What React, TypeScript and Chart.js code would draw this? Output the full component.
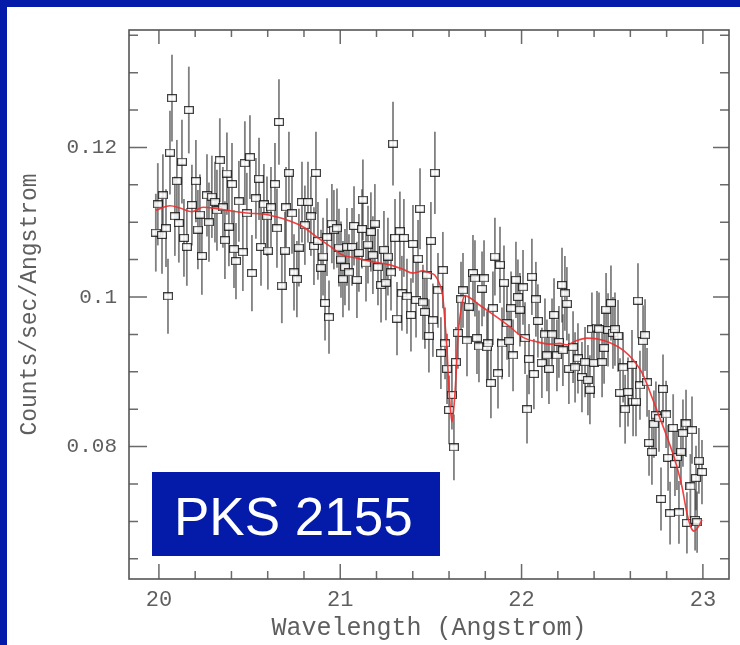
import React, { useEffect, useRef } from "react";
import { Chart, registerables } from "chart.js";

Chart.register(...registerables);

// Binned spectrum: wavelength (Angstrom), count rate and 1-sigma error
const wavelength = [
  19.983, 19.994, 20.017, 20.022, 20.039, 20.050, 20.061, 20.072, 20.088, 20.099,
  20.110, 20.127, 20.138, 20.154, 20.165, 20.182, 20.204, 20.215, 20.226, 20.237,
  20.265, 20.276, 20.292, 20.309, 20.320, 20.336, 20.353, 20.364, 20.375, 20.386,
  20.403, 20.414, 20.425, 20.441, 20.463, 20.474, 20.485, 20.502, 20.513, 20.535,
  20.552, 20.563, 20.579, 20.596, 20.601, 20.618, 20.640, 20.651, 20.662, 20.678,
  20.695, 20.701, 20.717, 20.734, 20.745,
  20.761, 20.772, 20.789, 20.805, 20.822, 20.838, 20.855, 20.866, 20.877, 20.894,
  20.905, 20.916, 20.927, 20.938, 20.954, 20.965, 20.982, 20.993, 21.004, 21.015,
  21.026, 21.037, 21.048, 21.065, 21.076, 21.092, 21.103, 21.120, 21.125, 21.142,
  21.153, 21.169, 21.180, 21.191, 21.208, 21.225, 21.241, 21.252, 21.263, 21.280,
  21.291, 21.302, 21.313, 21.329, 21.340, 21.351, 21.368, 21.390, 21.401, 21.418,
  21.429, 21.440, 21.456, 21.467, 21.478, 21.489, 21.500, 21.511, 21.522,
  21.539, 21.555, 21.566, 21.578, 21.589, 21.600, 21.616, 21.627, 21.638, 21.649,
  21.666, 21.677, 21.699, 21.710, 21.732, 21.743, 21.754, 21.765, 21.782, 21.793,
  21.809, 21.815, 21.831, 21.842, 21.853, 21.870, 21.881, 21.892, 21.903, 21.920,
  21.931, 21.942, 21.953, 21.969, 21.980, 21.991, 22.008, 22.019, 22.030, 22.041,
  22.057, 22.068, 22.079, 22.090, 22.112, 22.129, 22.140, 22.151, 22.168, 22.179,
  22.195, 22.206, 22.223, 22.228, 22.239, 22.250, 22.261,
  22.284, 22.295, 22.311, 22.333, 22.350, 22.366, 22.377, 22.388, 22.399, 22.416,
  22.427, 22.444, 22.455, 22.466, 22.477, 22.493, 22.504, 22.515, 22.532, 22.543,
  22.560, 22.571, 22.587, 22.609, 22.615, 22.631, 22.642, 22.653, 22.670, 22.681,
  22.692, 22.703, 22.719, 22.730, 22.741, 22.758, 22.769, 22.780, 22.797, 22.808,
  22.819, 22.836, 22.846, 22.857, 22.868, 22.879, 22.890, 22.907, 22.912, 22.931,
  22.940, 22.957, 22.962, 22.968, 22.978, 22.995,
];

const counts = [
  0.1086, 0.1124, 0.1083, 0.1136, 0.1092, 0.1001, 0.1193, 0.1266, 0.1108, 0.1155,
  0.1099, 0.1181, 0.1079, 0.1067, 0.1250, 0.1123, 0.1155, 0.1090, 0.1110, 0.1055,
  0.1136, 0.1100, 0.1134, 0.1127, 0.1116, 0.1183, 0.1120, 0.1076, 0.1165, 0.1094,
  0.1151, 0.1064, 0.1048, 0.1128, 0.1060, 0.1179, 0.1112, 0.1187, 0.1032, 0.1132,
  0.1158, 0.1067, 0.1124, 0.1108, 0.1062, 0.1120, 0.1151, 0.1092, 0.1234, 0.1015,
  0.1062, 0.1120, 0.1166, 0.1112, 0.1033,
  0.1024, 0.1066, 0.1127, 0.1096, 0.1127, 0.1108, 0.1068, 0.1166, 0.1075, 0.1039,
  0.1054, 0.0992, 0.1080, 0.0973, 0.1098, 0.1090, 0.1092, 0.1066, 0.1050, 0.1024,
  0.1040, 0.1067, 0.1033, 0.1067, 0.1095, 0.1023, 0.1059, 0.1091, 0.1130, 0.1045,
  0.1070, 0.1087, 0.1056, 0.1098, 0.1040, 0.1016, 0.1063, 0.1019, 0.1054, 0.1033,
  0.1205, 0.1079, 0.0971, 0.1088, 0.1005, 0.1079, 0.1001, 0.0976, 0.1071, 0.0996,
  0.1051, 0.1118, 0.0993, 0.0980, 0.1029, 0.0948, 0.1075, 0.0969, 0.1166,
  0.1009, 0.0925, 0.1036, 0.0938, 0.0904, 0.0849, 0.0869, 0.0799, 0.0913, 0.0952,
  0.0997, 0.1009, 0.0942, 0.0987, 0.1032, 0.1025, 0.0945, 0.0934, 0.1011, 0.1025,
  0.0933, 0.0938, 0.0885, 0.0985, 0.1054, 0.0898, 0.1043, 0.0938, 0.1019, 0.0965,
  0.0941, 0.0985, 0.0922, 0.1023, 0.1000, 0.0983, 0.1013, 0.0945, 0.0850, 0.0917,
  0.1027, 0.0897, 0.0997, 0.0968, 0.0912, 0.0950, 0.0922, 0.0904, 0.0950, 0.0976,
  0.0922, 0.0940, 0.1016, 0.0929, 0.1005, 0.0991, 0.0904,
  0.0933, 0.0906, 0.0918, 0.0893, 0.0913, 0.0889, 0.0876, 0.0957, 0.0912, 0.0959,
  0.0957, 0.0913, 0.0932, 0.0983, 0.0956, 0.0992, 0.0952, 0.0957, 0.0948, 0.0872,
  0.0906, 0.0850, 0.0873, 0.0909, 0.0860, 0.0860, 0.0995, 0.0882, 0.0941, 0.0949,
  0.0886, 0.0805, 0.0793, 0.0830, 0.0842, 0.0838, 0.0730, 0.0877, 0.0843, 0.0785,
  0.0711, 0.0825, 0.0777, 0.0786, 0.0712, 0.0793, 0.0818, 0.0831, 0.0698, 0.0747,
  0.0822, 0.0702, 0.0758, 0.0699, 0.0781, 0.0766,
];

const countErr = [
  0.0052, 0.0055, 0.0052, 0.0055, 0.0052, 0.0050, 0.0056, 0.0058, 0.0053, 0.0055,
  0.0053, 0.0056, 0.0052, 0.0052, 0.0058, 0.0054, 0.0055, 0.0053, 0.0054, 0.0052,
  0.0055, 0.0053, 0.0055, 0.0054, 0.0054, 0.0056, 0.0054, 0.0052, 0.0055, 0.0053,
  0.0055, 0.0052, 0.0051, 0.0054, 0.0052, 0.0056, 0.0054, 0.0056, 0.0051, 0.0054,
  0.0055, 0.0052, 0.0054, 0.0053, 0.0052, 0.0054, 0.0055, 0.0053, 0.0057, 0.0050,
  0.0052, 0.0054, 0.0055, 0.0054, 0.0051,
  0.0051, 0.0052, 0.0054, 0.0053, 0.0054, 0.0053, 0.0052, 0.0055, 0.0052, 0.0051,
  0.0052, 0.0050, 0.0052, 0.0049, 0.0053, 0.0053, 0.0053, 0.0052, 0.0051, 0.0051,
  0.0051, 0.0052, 0.0051, 0.0052, 0.0053, 0.0051, 0.0052, 0.0053, 0.0054, 0.0051,
  0.0052, 0.0053, 0.0052, 0.0053, 0.0051, 0.0050, 0.0052, 0.0050, 0.0052, 0.0051,
  0.0056, 0.0052, 0.0049, 0.0053, 0.0050, 0.0052, 0.0050, 0.0049, 0.0052, 0.0050,
  0.0052, 0.0054, 0.0050, 0.0049, 0.0051, 0.0049, 0.0052, 0.0049, 0.0055,
  0.0050, 0.0048, 0.0051, 0.0048, 0.0047, 0.0046, 0.0046, 0.0044, 0.0047, 0.0048,
  0.0050, 0.0050, 0.0048, 0.0049, 0.0051, 0.0051, 0.0048, 0.0048, 0.0050, 0.0051,
  0.0048, 0.0048, 0.0047, 0.0049, 0.0052, 0.0047, 0.0051, 0.0048, 0.0050, 0.0049,
  0.0048, 0.0049, 0.0048, 0.0051, 0.0050, 0.0049, 0.0050, 0.0048, 0.0046, 0.0047,
  0.0051, 0.0047, 0.0050, 0.0049, 0.0047, 0.0048, 0.0048, 0.0047, 0.0048, 0.0049,
  0.0048, 0.0048, 0.0050, 0.0048, 0.0050, 0.0049, 0.0047,
  0.0048, 0.0047, 0.0047, 0.0047, 0.0047, 0.0047, 0.0046, 0.0049, 0.0047, 0.0049,
  0.0049, 0.0047, 0.0048, 0.0049, 0.0049, 0.0050, 0.0048, 0.0049, 0.0048, 0.0046,
  0.0047, 0.0046, 0.0046, 0.0047, 0.0046, 0.0046, 0.0050, 0.0046, 0.0048, 0.0048,
  0.0046, 0.0044, 0.0044, 0.0045, 0.0045, 0.0045, 0.0042, 0.0046, 0.0045, 0.0044,
  0.0042, 0.0045, 0.0043, 0.0044, 0.0042, 0.0044, 0.0045, 0.0045, 0.0041, 0.0043,
  0.0045, 0.0041, 0.0043, 0.0041, 0.0044, 0.0043,
];

// Best-fit absorption model
const modelWavelength = [
  19.983, 20.061, 20.116, 20.182, 20.243, 20.320, 20.430, 20.502, 20.574, 20.651,
  20.706, 20.750, 20.794, 20.872, 20.943, 21.015, 21.092, 21.180, 21.274, 21.346,
  21.401, 21.456, 21.495, 21.522, 21.550, 21.566, 21.578, 21.589, 21.596, 21.605,
  21.616, 21.627, 21.638, 21.649, 21.671, 21.688, 21.715, 21.770, 21.864, 21.936,
  22.008, 22.085, 22.157, 22.212, 22.250, 22.295, 22.361, 22.416, 22.488, 22.560,
  22.615, 22.670, 22.719, 22.752, 22.802, 22.846, 22.885, 22.912, 22.934, 22.951,
  22.973, 22.995,
];

const modelCounts = [
  0.1116, 0.1122, 0.1119, 0.1114, 0.1120, 0.1118, 0.1114, 0.1112, 0.1111, 0.1107,
  0.1103, 0.1099, 0.1094, 0.1080, 0.1068, 0.1056, 0.1052, 0.1047, 0.1043, 0.1037,
  0.1032, 0.1035, 0.1032, 0.1029, 0.1016, 0.1000, 0.0965, 0.0929, 0.0893, 0.0858,
  0.0833, 0.0853, 0.0893, 0.0946, 0.0990, 0.1002, 0.0999, 0.0989, 0.0973, 0.0960,
  0.0946, 0.0940, 0.0937, 0.0938, 0.0936, 0.0941, 0.0945, 0.0944, 0.0939, 0.0929,
  0.0916, 0.0896, 0.0866, 0.0845, 0.0813, 0.0782, 0.0746, 0.0711, 0.0692, 0.0687,
  0.0692, 0.0702,
];

const xTickValues = [20, 21, 22, 23];
const yTickValues = [0.08, 0.1, 0.12];

const X_MIN = 19.835;
const X_MAX = 23.144;
const Y_MIN = 0.0623;
const Y_MAX = 0.1357;

const FRAME_BLUE = "#031ba8";
const INK = "#5e5e5e";

// open square marker drawn as a small bitmap
function makeSquareMarker(): HTMLCanvasElement {
  const c = document.createElement("canvas");
  c.width = 10;
  c.height = 8;
  const g = c.getContext("2d")!;
  g.fillStyle = "rgba(255,255,255,0.85)";
  g.fillRect(1, 1, 8, 6);
  g.strokeStyle = "rgba(30,30,30,0.85)";
  g.lineWidth = 1.2;
  g.strokeRect(0.6, 0.6, 8.8, 6.8);
  return c;
}

const errorBarPlugin = {
  id: "errorBars",
  beforeDatasetsDraw(chart: any) {
    const { ctx, chartArea } = chart;
    const xs = chart.scales.x;
    const ys = chart.scales.y;
    ctx.save();
    ctx.beginPath();
    ctx.rect(chartArea.left, chartArea.top, chartArea.right - chartArea.left, chartArea.bottom - chartArea.top);
    ctx.clip();
    ctx.strokeStyle = "rgba(60,60,60,0.65)";
    ctx.lineWidth = 1.8;
    for (let i = 0; i < wavelength.length; i++) {
      const px = xs.getPixelForValue(wavelength[i]);
      ctx.beginPath();
      ctx.moveTo(px, ys.getPixelForValue(counts[i] - countErr[i]));
      ctx.lineTo(px, ys.getPixelForValue(counts[i] + countErr[i]));
      ctx.stroke();
    }
    ctx.restore();
  },
};

// box frame with inward-pointing ticks on all four sides
const framePlugin = {
  id: "frameTicks",
  afterDraw(chart: any) {
    const { ctx, chartArea } = chart;
    const { left, right, top, bottom } = chartArea;
    const xs = chart.scales.x;
    const ys = chart.scales.y;
    ctx.save();
    ctx.strokeStyle = "#6a6a6a";
    ctx.lineWidth = 1.5;
    for (let k = 0; k <= 15; k++) {
      const v = 20 + k * 0.2;
      const major = k % 5 === 0;
      const px = xs.getPixelForValue(v);
      ctx.beginPath();
      ctx.moveTo(px, bottom);
      ctx.lineTo(px, bottom - (major ? 15 : 8));
      ctx.moveTo(px, top);
      ctx.lineTo(px, top + (major ? 14 : 7));
      ctx.stroke();
    }
    for (let k = 13; k <= 27; k++) {
      const v = k * 0.005;
      const major = k % 4 === 0;
      const py = ys.getPixelForValue(v);
      ctx.beginPath();
      ctx.moveTo(left, py);
      ctx.lineTo(left + (major ? 18 : 9), py);
      ctx.moveTo(right, py);
      ctx.lineTo(right - (major ? 16 : 9), py);
      ctx.stroke();
    }
    ctx.strokeStyle = "#555";
    ctx.lineWidth = 1.6;
    ctx.strokeRect(left, top, right - left, bottom - top);
    ctx.restore();
  },
};

export default function App() {
  const canvasRef = useRef<HTMLCanvasElement | null>(null);

  useEffect(() => {
    if (!canvasRef.current) return;
    const marker = makeSquareMarker();
    const chart = new Chart(canvasRef.current, {
      type: "scatter",
      data: {
        datasets: [
          {
            type: "line",
            label: "model",
            data: modelWavelength.map((w, i) => ({ x: w, y: modelCounts[i] })),
            borderColor: "rgba(238,45,45,0.9)",
            borderWidth: 1.6,
            pointRadius: 0,
            cubicInterpolationMode: "monotone",
            fill: false,
            order: 1,
          } as any,
          {
            type: "scatter",
            label: "data",
            data: wavelength.map((w, i) => ({ x: w, y: counts[i] })),
            pointStyle: marker as any,
            pointRadius: 5,
            order: 2,
          },
        ],
      },
      options: {
        animation: false,
        responsive: false,
        devicePixelRatio: 1,
        layout: { padding: { top: 30, right: 11, left: 0, bottom: 0 } },
        plugins: { legend: { display: false }, tooltip: { enabled: false } },
        scales: {
          x: {
            type: "linear",
            min: X_MIN,
            max: X_MAX,
            afterFit: (s: any) => {
              s.height = 66;
            },
            afterBuildTicks: (s: any) => {
              s.ticks = xTickValues.map((v) => ({ value: v }));
            },
            grid: { display: false, drawTicks: false },
            border: { display: false },
            ticks: {
              autoSkip: false,
              maxRotation: 0,
              padding: 8,
              color: INK,
              font: { family: "'Liberation Mono', monospace", size: 22 },
              callback: (v: any) => String(v),
            },
            title: {
              display: true,
              text: "Wavelength (Angstrom)",
              color: INK,
              font: { family: "'Liberation Mono', monospace", size: 25 },
              padding: { top: 0, bottom: 2 },
            },
          },
          y: {
            type: "linear",
            min: Y_MIN,
            max: Y_MAX,
            afterFit: (s: any) => {
              s.width = 129;
            },
            afterBuildTicks: (s: any) => {
              s.ticks = yTickValues.map((v) => ({ value: v }));
            },
            grid: { display: false, drawTicks: false },
            border: { display: false },
            ticks: {
              autoSkip: false,
              padding: 12,
              color: INK,
              font: { family: "'Liberation Mono', monospace", size: 21 },
              callback: (v: any) => String(v),
            },
            title: {
              display: true,
              text: "Counts/sec/Angstrom",
              color: INK,
              font: { family: "'Liberation Mono', monospace", size: 23 },
              padding: { top: 16, bottom: 0 },
            },
          },
        },
      },
      plugins: [errorBarPlugin, framePlugin],
    });
    return () => chart.destroy();
  }, []);

  return (
    <div
      style={{
        position: "fixed",
        left: 0,
        top: 0,
        width: 740,
        height: 645,
        background: "#ffffff",
        overflow: "hidden",
      }}
    >
      <canvas ref={canvasRef} width={740} height={645} style={{ position: "absolute", left: 0, top: 0, width: 740, height: 645 }} />
      <div style={{ position: "absolute", left: 0, top: 0, width: 740, height: 7, background: FRAME_BLUE }} />
      <div style={{ position: "absolute", left: 0, top: 0, width: 7, height: 645, background: FRAME_BLUE }} />
      <div
        style={{
          position: "absolute",
          left: 152,
          top: 472,
          width: 288,
          height: 84,
          boxSizing: "border-box",
          paddingLeft: 22,
          paddingTop: 5,
          background: FRAME_BLUE,
          color: "#ffffff",
          fontFamily: "'Liberation Sans', Arial, sans-serif",
          fontSize: 53,
          display: "flex",
          alignItems: "center",
          whiteSpace: "nowrap",
        }}
      >
        PKS 2155
      </div>
    </div>
  );
}
